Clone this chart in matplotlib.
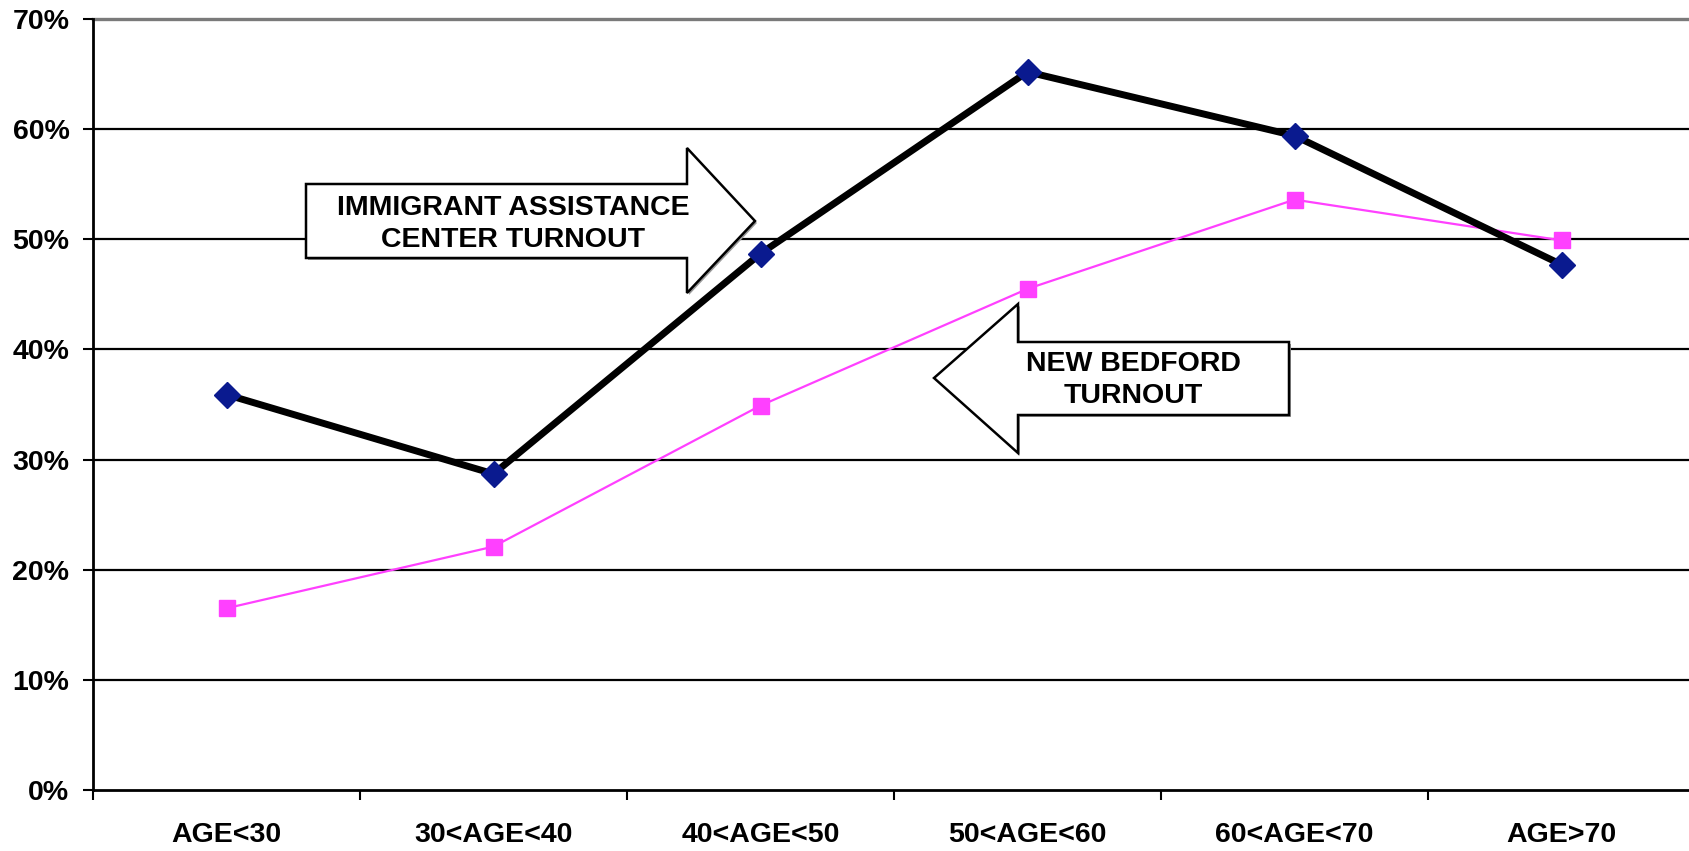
import matplotlib
matplotlib.use("Agg")
import matplotlib.pyplot as plt
from matplotlib.patches import Polygon
import numpy as np

categories = ["AGE<30", "30<AGE<40", "40<AGE<50", "50<AGE<60", "60<AGE<70", "AGE>70"]
iac_turnout = [35.9, 28.7, 48.7, 65.2, 59.4, 47.7]
nb_turnout = [16.5, 22.1, 34.9, 45.5, 53.6, 49.9]
y_ticks = [0, 10, 20, 30, 40, 50, 60, 70]
y_tick_labels = ["0%", "10%", "20%", "30%", "40%", "50%", "60%", "70%"]
label_iac = "IMMIGRANT ASSISTANCE\nCENTER TURNOUT"
label_nb = "NEW BEDFORD\nTURNOUT"

plt.rcParams['font.family'] = ['Liberation Sans', 'DejaVu Sans']
plt.rcParams['font.weight'] = 'bold'

W, H = 1690, 851
fig = plt.figure(figsize=(W / 100, H / 100), dpi=100)
ax = fig.add_axes([93 / W, (H - 790) / H, 1602 / W, 771 / H])

x = np.arange(len(categories))
ax.set_xlim(-0.5, len(categories) - 0.5)
ax.set_ylim(0, 70)

# gridlines
for t in y_ticks[1:-1]:
    ax.axhline(t, color='black', lw=1.6, zorder=1)
ax.axhline(70, color='#7a7a7a', lw=2.4, zorder=1, clip_on=False)

# lines
ax.plot(x, nb_turnout, color='#FF40FF', lw=1.6, marker='s', ms=11.5,
        markerfacecolor='#FF40FF', markeredgecolor='#FF40FF', zorder=4)
ax.plot(x, iac_turnout, color='black', lw=5, marker='D', ms=13,
        markerfacecolor='#0A1A8F', markeredgecolor='#0A1A8F', zorder=5)

# spines
for s in ['top', 'right']:
    ax.spines[s].set_visible(False)
ax.spines['left'].set_linewidth(2)
ax.spines['bottom'].set_linewidth(2)

ax.set_yticks(y_ticks)
ax.set_yticklabels(y_tick_labels, fontsize=20.5, fontweight='bold')
ax.tick_params(axis='y', length=7, width=1.5, pad=10)

ax.set_xticks(np.arange(-0.5, len(categories), 1.0))
ax.set_xticklabels([])
ax.set_xticks(x, minor=True)
ax.set_xticklabels(categories, minor=True, fontsize=20.5, fontweight='bold')
ax.tick_params(axis='x', which='major', length=7, width=1.5)
ax.tick_params(axis='x', which='minor', length=0, pad=23)

# callout arrows (figure pixel coordinates, y from top)
def fig_poly(pts):
    return [(px / W, 1 - py / H) for px, py in pts]

arrow_right = [(306, 184), (687, 184), (687, 148), (755, 221), (687, 293),
               (687, 258), (306, 258)]
arrow_left = [(934, 378), (1018, 304), (1018, 342), (1289, 342), (1289, 415),
              (1018, 415), (1018, 453)]

for pts in (arrow_right, arrow_left):
    shadow = Polygon(fig_poly([(px + 2, py + 2) for px, py in pts]), closed=True,
                     transform=fig.transFigure, facecolor='#9a9a9a',
                     edgecolor='none', zorder=2)
    fig.add_artist(shadow)
    poly = Polygon(fig_poly(pts), closed=True, transform=fig.transFigure,
                   facecolor='white', edgecolor='black', lw=1.8, zorder=3)
    fig.add_artist(poly)

fig.text(513 / W, 1 - 224 / H, label_iac, ha='center', va='center',
         fontsize=20.5, fontweight='bold', linespacing=1.3, zorder=6)
fig.text(1133 / W, 1 - 380 / H, label_nb, ha='center', va='center',
         fontsize=20.5, fontweight='bold', linespacing=1.3, zorder=6)

fig.savefig("out.png", dpi=100)
